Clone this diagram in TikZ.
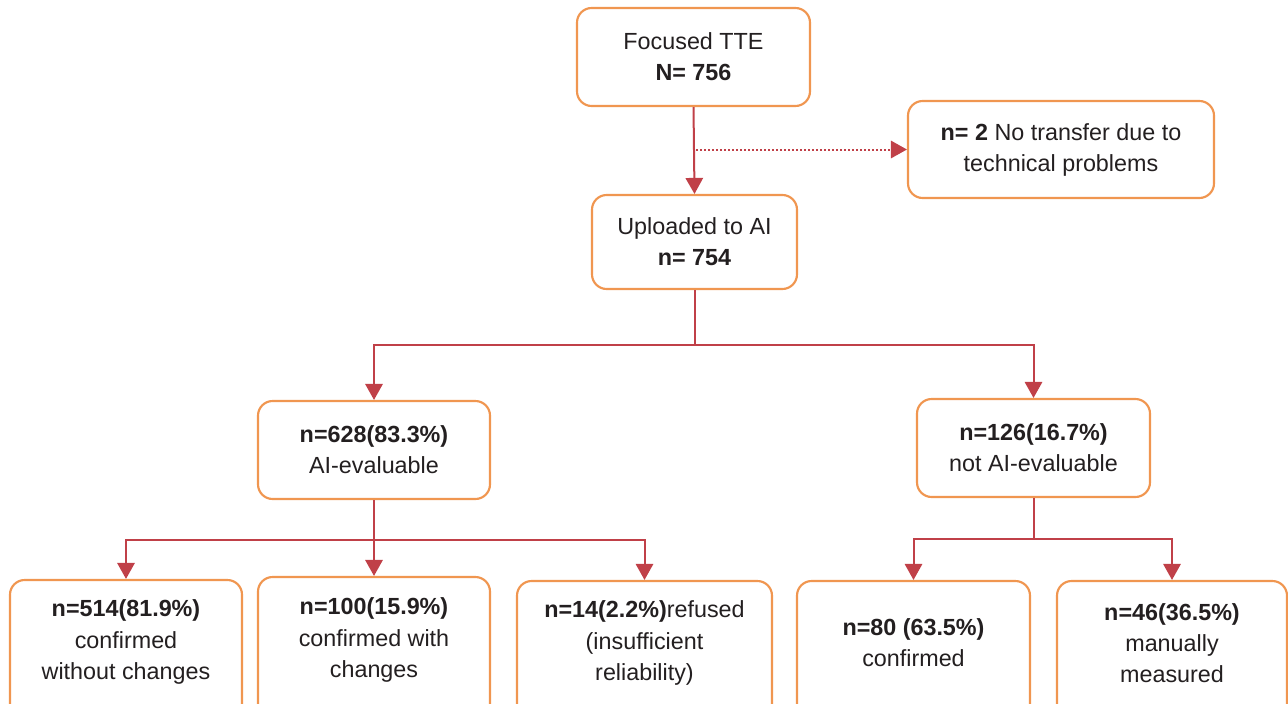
\documentclass[tikz,border=0pt]{standalone}
\usepackage{fontspec}
\setmainfont{Liberation Sans}
\usetikzlibrary{arrows.meta}
\definecolor{boxor}{RGB}{240,150,80}
\definecolor{arr}{RGB}{192,64,72}
\definecolor{txt}{RGB}{35,31,32}
\tikzset{
  bx/.style 2 args={draw=boxor, line width=1.6pt, rounded corners=11pt, fill=white,
    minimum width=#1*0.75pt, minimum height=#2*0.75pt, inner sep=0pt,
    align=center, text=txt, font=\fontsize{17.5}{23.3}\selectfont},
  tx/.style={align=center, text=txt, font=\fontsize{17.5}{23.3}\selectfont, inner sep=0pt},
  conn/.style={draw=arr, line width=1.5pt, -{Triangle[length=12pt,width=13pt]}},
  seg/.style={draw=arr, line width=1.5pt},
  dotconn/.style={draw=arr, line width=1.5pt, dash pattern=on 1.5pt off 1.5pt, -{Triangle[length=12pt,width=13pt]}}
}
\begin{document}
\begin{tikzpicture}[x=0.75pt,y=-0.75pt]
\useasboundingbox (0,0) rectangle (1288,703);
\clip (0,0) rectangle (1288,703);
% upper boxes
\node[bx={233}{98}] (top) at (693.5,57) {Focused TTE\\\textbf{N= 756}};
\node[bx={306}{97}] (notr) at (1061,149.5) {\textbf{n= 2} No transfer due to\\technical problems};
\node[bx={205}{94}] (up) at (694.5,242) {Uploaded to AI\\\textbf{n= 754}};
\node[bx={232}{98}] (aie) at (374,450) {\textbf{n=628(83.3\%)}\\AI-evaluable};
\node[bx={233}{98}] (naie) at (1033.5,448) {\textbf{n=126(16.7\%)}\\not AI-evaluable};
% bottom boxes (extend beyond lower edge)
\node[bx={232}{180}] (b1) at (126,670) {};
\node[bx={232}{180}] (b2) at (374,667) {};
\node[bx={255}{180}] (b3) at (644.5,671) {};
\node[bx={233}{180}] (b4) at (913.5,671) {};
\node[bx={230}{180}] (b5) at (1172,671) {};
\node[tx] (b1t) at (126,642) {\textbf{n=514(81.9\%)}\\confirmed\\without changes};
\node[tx] (b2t) at (374,640) {\textbf{n=100(15.9\%)}\\confirmed with\\changes};
\node[tx] (b3t) at (644.5,643) {\textbf{n=14(2.2\%)}refused\\(insufficient\\reliability)};
\node[tx] (b4t) at (913.5,643) {\textbf{n=80 (63.5\%)}\\confirmed};
\node[tx] (b5t) at (1172,643) {\textbf{n=46(36.5\%)}\\manually\\measured};
% connectors
\draw[conn] (top.south) -- (up.north);
\coordinate (dz) at (top.south |- notr.west);
\draw[dotconn] ([xshift=2pt]dz) -- (notr.west);
\coordinate (s1) at (up.south |- 0,345);
\draw[seg] (up.south) -- (s1);
\draw[conn] (s1) -| (aie.north);
\draw[conn] (s1) -| (naie.north);
\coordinate (s2) at (aie.south |- 0,540);
\draw[seg] (aie.south) -- (s2);
\draw[conn] (s2) -| (b1.north);
\draw[conn] (s2) -- (b2.north);
\draw[conn] (s2) -| (b3.north);
\coordinate (s3) at (naie.south |- 0,539);
\draw[seg] (naie.south) -- (s3);
\draw[conn] (s3) -| (b4.north);
\draw[conn] (s3) -| (b5.north);
\end{tikzpicture}
\end{document}
